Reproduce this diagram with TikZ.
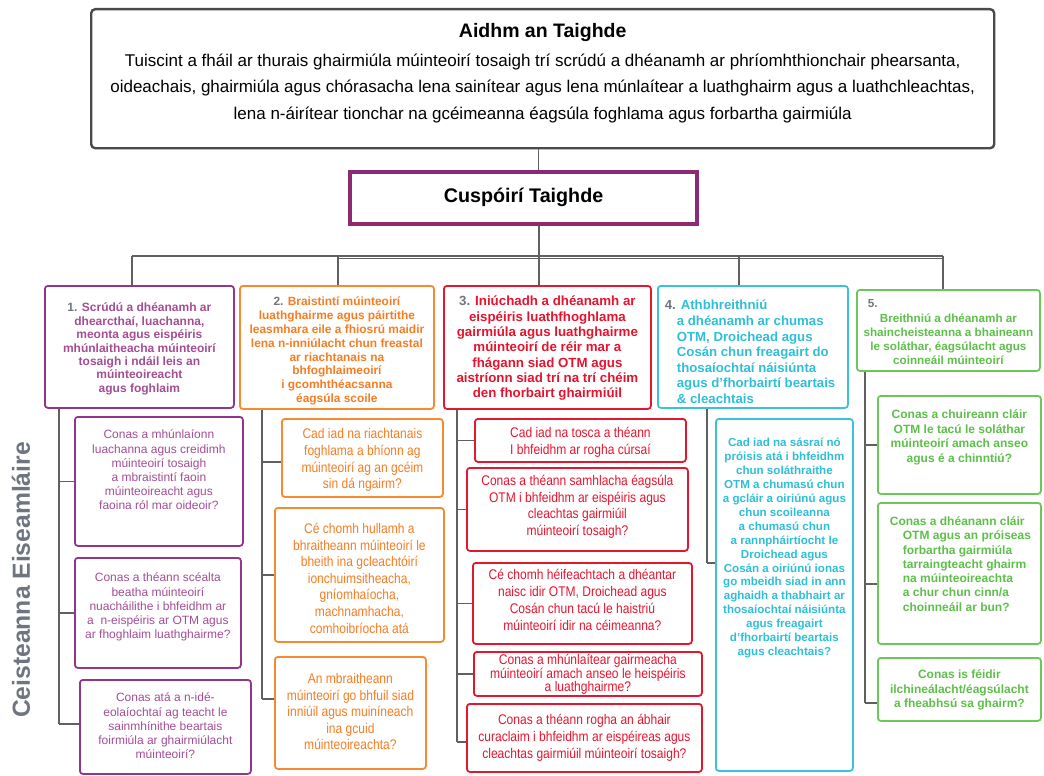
\documentclass[tikz,border=0pt]{standalone}
\usepackage{fontspec}
\setmainfont{Liberation Sans}
\newfontfamily\condensed[FakeStretch=0.86]{Liberation Sans}

\definecolor{framegray}{HTML}{4A4A4A}
\definecolor{conngray}{HTML}{606060}
\definecolor{numgray}{HTML}{6E7580}
\definecolor{cuspline}{HTML}{8C2A74}
\definecolor{purpleline}{HTML}{93358A}
\definecolor{purpletext}{HTML}{A34D93}
\definecolor{orangeline}{HTML}{F58A2E}
\definecolor{orangetext}{HTML}{F57C22}
\definecolor{redline}{HTML}{E3172D}
\definecolor{redtext}{HTML}{E5142E}
\definecolor{cyanline}{HTML}{3CC2D4}
\definecolor{cyantext}{HTML}{2EBFD6}
\definecolor{greenline}{HTML}{6CC75A}
\definecolor{greentext}{HTML}{5DBF4A}

% \qcard{name}{style}{x1}{y1}{x2}{y2}{first baseline}{text}
\newcommand\qcard[8]{%
  \pgfmathsetlengthmacro\qcw{#5-#3}%
  \pgfmathsetlengthmacro\qch{#6-#4}%
  \node[#2] (#1) at (#3,#4) {\parbox[t][\qch][t]{\qcw}{\centering\vspace*{\dimexpr#7pt-1em\relax}\rule{0pt}{1em}#8}};%
}

\begin{document}
\begin{tikzpicture}[x=1pt,y=-1pt,
  base/.style={draw, line width=1.8pt, rounded corners=3pt, inner sep=0pt, anchor=north west},
  aimbox/.style={base, draw=framegray, line width=2.4pt, rounded corners=4pt, font=\fontsize{17}{26.5}\selectfont},
  cuspbox/.style={draw=cuspline, line width=4pt, inner sep=0pt, minimum width=347pt, minimum height=52pt, font=\fontsize{19.7}{22}\selectfont\bfseries},
  lvone/.style={base, draw=purpleline, text=purpletext},
  lvtwo/.style={base, draw=orangeline, text=orangetext},
  lvthree/.style={base, draw=redline, text=redtext},
  lvfour/.style={base, draw=cyanline, text=cyantext},
  lvfive/.style={base, draw=greenline, text=greentext},
  qone/.style={lvone, font=\fontsize{12}{14.1}\selectfont},
  qtwo/.style={lvtwo, font=\condensed\fontsize{14}{16.6}\selectfont},
  qthree/.style={lvthree, font=\condensed\fontsize{14}{17}\selectfont},
  qfour/.style={lvfour, font=\fontsize{11.6}{13.9}\selectfont\bfseries},
  qfive/.style={lvfive, font=\fontsize{12}{14.3}\selectfont\bfseries},
  conn/.style={draw=conngray, line width=1.3pt},
]
\useasboundingbox (0,0) rectangle (1044,776);

% aim of the research
\qcard{aim}{aimbox}{90}{8}{993}{147}{28}{%
  {\fontsize{19.5}{24}\selectfont\bfseries Aidhm an Taighde}\\[2.5pt]
  Tuiscint a fháil ar thurais ghairmiúla múinteoirí tosaigh trí scrúdú a dhéanamh ar phríomhthionchair phearsanta,\\
  oideachais, ghairmiúla agus chórasacha lena sainítear agus lena múnlaítear a luathghairm agus a luathchleachtas,\\
  lena n-áirítear tionchar na gcéimeanna éagsúla foghlama agus forbartha gairmiúla}

% research objectives
\node[cuspbox] (cusp) at (523.5,197.5) {Cuspóirí Taighde};

% the five objectives
\qcard{b1}{lvone, font=\fontsize{12}{13.4}\selectfont\bfseries}{44}{285}{233}{407}{26}{%
  {\color{numgray}1.} Scrúdú a dhéanamh ar\\ dhearcthaí, luachanna,\\ meonta agus eispéiris\\
  mhúnlaitheacha múinteoirí\\ tosaigh i ndáil leis an\\ múinteoireacht\\ agus foghlaim}
\qcard{b2}{lvtwo, font=\fontsize{11.9}{13.8}\selectfont\bfseries}{239}{285}{433}{408}{20}{%
  {\color{numgray}2.} Braistintí múinteoirí\\ luathghairme agus páirtithe\\ leasmhara eile a fhiosrú maidir\\
  lena n-inniúlacht chun freastal\\ ar riachtanais na\\ bhfoghlaimeoirí\\ i gcomhthéacsanna\\ éagsúla scoile}
\qcard{b3}{lvthree, font=\fontsize{13.3}{15.3}\selectfont\bfseries}{443}{285}{650}{408}{20}{%
  {\color{numgray}3.} Iniúchadh a dhéanamh ar\\ eispéiris luathfhoghlama\\ gairmiúla agus luathghairme\\
  múinteoirí de réir mar a\\ fhágann siad OTM agus\\ aistríonn siad trí na trí chéim\\ den fhorbairt ghairmiúil}
\qcard{b4}{lvfour, font=\fontsize{13.2}{15.6}\selectfont\bfseries}{657}{285}{847}{407}{24}{%
  \raggedright\leftskip=7pt
  {\color{numgray}4.} Athbhreithniú\\ \hspace*{12pt}a dhéanamh ar chumas\\ \hspace*{12pt}OTM, Droichead agus\\
  \hspace*{12pt}Cosán chun freagairt do\\ \hspace*{12pt}thosaíochtaí náisiúnta\\
  \hspace*{12pt}agus d’fhorbairtí beartais\\ \hspace*{12pt}\& cleachtais}
\qcard{b5}{lvfive, font=\fontsize{11.7}{14}\selectfont\bfseries}{856}{289}{1039}{370}{18}{%
  \makebox[\linewidth][l]{\hspace*{11pt}\color{numgray}5.}\\[1pt]
  Breithniú a dhéanamh ar\\ shaincheisteanna a bhaineann\\ le soláthar, éagsúlacht agus\\ coinneáil múinteoirí}

% sample questions, column 1
\qcard{q1a}{qone}{74}{416}{242}{545}{22}{%
  Conas a mhúnlaíonn\\ luachanna agus creidimh\\ múinteoirí tosaigh\\ a mbraistintí faoin\\
  múinteoireacht agus\\ faoina ról mar oideoir?}
\qcard{q1b}{qone}{74}{557}{240}{667}{24}{%
  Conas a théann scéalta\\ beatha múinteoirí\\ nuacháilithe i bhfeidhm ar\\ a\ \ n-eispéiris ar OTM agus\\
  ar fhoghlaim luathghairme?}
\qcard{q1c}{qone}{79}{679}{250}{773}{22}{%
  Conas atá a n-idé-\\ eolaíochtaí ag teacht le\\ sainmhínithe beartais\\ foirmiúla ar ghairmiúlacht\\ múinteoirí?}

% sample questions, column 2
\qcard{q2a}{qtwo}{281}{418}{442}{496}{20}{%
  Cad iad na riachtanais\\ foghlama a bhíonn ag\\ múinteoirí ag an gcéim\\ sin dá ngairm?}
\qcard{q2b}{qtwo}{274}{507}{443}{641}{25.5}{%
  Cé chomh hullamh a\\ bhraitheann múinteoirí le\\ bheith ina gcleachtóirí\\ ionchuimsitheacha,\\
  gníomhaíocha,\\ machnamhacha,\\ comhoibríocha atá}
\qcard{q2c}{qtwo}{274}{656}{425}{768}{26.5}{%
  An mbraitheann\\ múinteoirí go bhfuil siad\\ inniúil agus muiníneach\\ ina gcuid\\ múinteoireachta?}

% sample questions, column 3
\qcard{q3a}{qthree}{474}{418}{685}{461}{18.5}{%
  Cad iad na tosca a théann\\ I bhfeidhm ar rogha cúrsaí}
\qcard{q3b}{qthree, font=\condensed\fontsize{14}{16.4}\selectfont}{466}{467}{687}{550}{18}{%
  Conas a théann samhlacha éagsúla\\ OTM i bhfeidhm ar eispéiris agus\\ cleachtas gairmiúil\\ múinteoirí tosaigh?}
\qcard{q3c}{qthree}{472}{562}{691}{643}{16.5}{%
  Cé chomh héifeachtach a dhéantar\\ naisc idir OTM, Droichead agus\\ Cosán chun tacú le haistriú\\ múinteoirí idir na céimeanna?}
\qcard{q3d}{qthree, font=\condensed\fontsize{14}{13.3}\selectfont}{473}{651}{701}{695}{13}{%
  Conas a mhúnlaítear gairmeacha\\ múinteoirí amach anseo le heispéiris\\ a luathghairme?}
\qcard{q3e}{qthree, font=\condensed\fontsize{14}{16.7}\selectfont}{466}{703}{701}{771}{21}{%
  Conas a théann rogha an ábhair\\ curaclaim i bhfeidhm ar eispéireas agus\\ cleachtas gairmiúil múinteoirí tosaigh?}

% sample questions, column 4
\qcard{q4a}{qfour}{715}{418}{852}{770}{28}{%
  Cad iad na sásraí nó\\ próisis atá i bhfeidhm\\ chun soláthraithe\\ OTM a chumasú chun\\
  a gcláir a oiriúnú agus\\ chun scoileanna\\ a chumasú chun\\ a rannpháirtíocht le\\
  Droichead agus\\ Cosán a oiriúnú ionas\\ go mbeidh siad in ann\\ aghaidh a thabhairt ar\\
  thosaíochtaí náisiúnta\\ agus freagairt\\ d’fhorbairtí beartais\\ agus cleachtais?}

% sample questions, column 5
\qcard{q5a}{qfive, font=\fontsize{12}{14.7}\selectfont\bfseries}{877}{395}{1040}{493}{22.5}{%
  Conas a chuireann cláir\\ OTM le tacú le soláthar\\ múinteoirí amach anseo\\ agus é a chinntiú?}
\qcard{q5b}{qfive}{877}{502}{1040}{643}{22.5}{%
  \raggedright\leftskip=12pt
  Conas a dhéanann cláir\\ \hspace*{13pt}OTM agus an próiseas\\ \hspace*{13pt}forbartha gairmiúla\\
  \hspace*{13pt}tarraingteacht ghairm\\ \hspace*{13pt}na múinteoireachta\\ \hspace*{13pt}a chur chun cinn/a\\
  \hspace*{13pt}choinneáil ar bun?}
\qcard{q5c}{qfive}{877}{657}{1040}{720}{21}{%
  Conas is féidir\\ ilchineálacht/éagsúlacht\\ a fheabhsú sa ghairm?}

% side heading
\node[rotate=90, font=\fontsize{24.7}{28}\selectfont\bfseries, text=numgray] (side) at (21,580) {Ceisteanna Eiseamláire};

% trunk and distribution bar
\coordinate (d1) at (132,256);
\coordinate (d2) at (338,256);
\coordinate (d3) at (539,256);
\coordinate (d4) at (739,256);
\coordinate (d5) at (943,256);
\draw[conn] ([xshift=-4pt]aim.south) -- ([xshift=-4pt]aim.south |- cusp.north);
\draw[conn] (cusp.south -| d3) -- (d3);
\draw[conn] (d1) -- (d5);
\draw[conn, line width=1.1pt] ([yshift=-2.6pt]d2) -- ([yshift=-2.6pt]d5);
\foreach \i in {1,...,5} {\draw[conn] (d\i) -- (d\i |- b\i.north);}

% column spines
\coordinate (s1) at (59,0);
\coordinate (s2) at (262,0);
\coordinate (s3) at (457,0);
\coordinate (s4) at (707,0);
\coordinate (s5) at (865,0);

% entry points of the stubs
\coordinate (q1a-in) at (q1a.west);
\coordinate (q1b-in) at (q1b.west);
\coordinate (q1c-in) at ([yshift=3pt]q1c.west);
\coordinate (q2a-in) at ([yshift=-4pt]q2a.west);
\coordinate (q2b-in) at (q2b.west);
\coordinate (q2c-in) at ([yshift=14pt]q2c.west);
\coordinate (q3a-in) at (q3a.west);
\coordinate (q3b-in) at (q3b.west);
\coordinate (q3c-in) at (q3c.west);
\coordinate (q3d-in) at (q3d.west);
\coordinate (q3e-in) at ([yshift=-4pt]q3e.west);
\coordinate (q4a-in) at ([yshift=32pt]q4a.west);
\coordinate (q5a-in) at (q5a.west);
\coordinate (q5b-in) at ([yshift=-10.5pt]q5b.west);
\coordinate (q5c-in) at ([yshift=-13.5pt]q5c.west);

\draw[conn] (s1 |- b1.south) -- (s1 |- q1c-in);
\draw[conn] (s2 |- b2.south) -- (s2 |- q2c-in);
\draw[conn] (s3 |- b3.south) -- (s3 |- q3e-in);
\draw[conn] (s4 |- b4.south) -- (s4 |- q4a-in);
\draw[conn] (s5 |- b5.south) -- (s5 |- q5c-in);
\foreach \q in {a,b,c} {\draw[conn] (s1 |- q1\q-in) -- (q1\q-in);}
\foreach \q in {a,b,c} {\draw[conn] (s2 |- q2\q-in) -- (q2\q-in);}
\foreach \q in {a,b,c,d,e} {\draw[conn] (s3 |- q3\q-in) -- (q3\q-in);}
\draw[conn] (s4 |- q4a-in) -- (q4a-in);
\foreach \q in {a,b,c} {\draw[conn] (s5 |- q5\q-in) -- (q5\q-in);}
\end{tikzpicture}
\end{document}
